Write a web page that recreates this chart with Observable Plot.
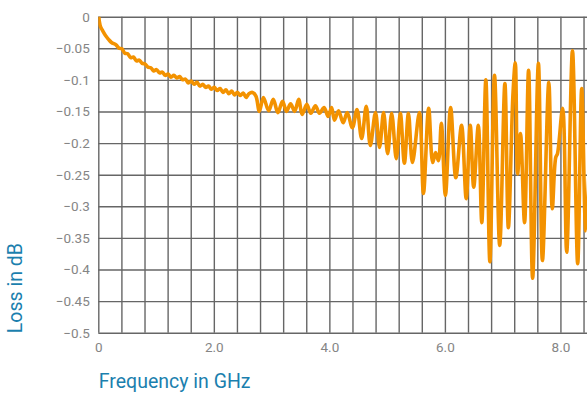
<!DOCTYPE html>
<html><head><meta charset="utf-8">
<script src="https://cdn.jsdelivr.net/npm/d3@7"></script>
<script src="https://cdn.jsdelivr.net/npm/@observablehq/plot@0.6"></script>
<style>body{margin:0;background:#fff;overflow:hidden}</style>
</head><body><div id="chart"></div>
<script>
const freqGHz = [
  0, 0.012, 0.029, 0.064, 0.116, 0.168, 0.220,
  0.30, 0.35, 0.40, 0.45, 0.50, 0.55, 0.60, 0.65, 0.70, 0.75, 0.80, 0.85, 0.90, 0.95,
  1.00, 1.05, 1.10, 1.15, 1.20, 1.25, 1.30, 1.35, 1.40, 1.45, 1.50, 1.55, 1.60, 1.65, 1.70, 1.75,
  1.80, 1.85, 1.90, 1.95, 2.00, 2.05, 2.10, 2.15, 2.20, 2.25, 2.30, 2.35, 2.40, 2.45, 2.50, 2.55, 2.60,
  2.66, 2.72, 2.78, 2.85, 2.94, 3.02, 3.10, 3.18, 3.25, 3.32, 3.39, 3.46, 3.52, 3.60, 3.67,
  3.75, 3.82, 3.90, 3.97, 4.03, 4.08, 4.15, 4.23, 4.30, 4.39, 4.47, 4.55, 4.63, 4.70, 4.79,
  4.86, 4.93, 5.00, 5.07, 5.15, 5.22, 5.29, 5.36, 5.43, 5.55, 5.62, 5.71, 5.78, 5.83, 5.88,
  5.93, 6.00, 6.09, 6.18, 6.28, 6.36, 6.43, 6.49, 6.57, 6.63, 6.70, 6.77, 6.85, 6.94, 7.03,
  7.09, 7.17, 7.21, 7.25, 7.30, 7.37, 7.44, 7.51, 7.61, 7.68, 7.79, 7.85, 7.91, 7.94, 8.03,
  8.10, 8.20, 8.29, 8.36, 8.43, 8.50
];
const lossDb = [
  0, -0.008, -0.015, -0.021, -0.029, -0.035, -0.040,
  -0.044, -0.049, -0.050, -0.057, -0.058, -0.064, -0.063, -0.069, -0.068, -0.073, -0.074, -0.079, -0.080, -0.085,
  -0.083, -0.088, -0.087, -0.092, -0.090, -0.095, -0.092, -0.096, -0.094, -0.099, -0.098, -0.104, -0.101, -0.106, -0.103, -0.109,
  -0.106, -0.111, -0.109, -0.114, -0.111, -0.116, -0.113, -0.119, -0.115, -0.121, -0.117, -0.123, -0.119, -0.124, -0.120, -0.127, -0.121,
  -0.119, -0.125, -0.149, -0.127, -0.148, -0.130, -0.151, -0.133, -0.149, -0.137, -0.149, -0.130, -0.154, -0.138, -0.152,
  -0.140, -0.152, -0.143, -0.157, -0.143, -0.163, -0.148, -0.167, -0.151, -0.175, -0.146, -0.192, -0.141, -0.203, -0.151,
  -0.206, -0.151, -0.216, -0.152, -0.224, -0.152, -0.231, -0.152, -0.230, -0.151, -0.279, -0.144, -0.230, -0.214, -0.227,
  -0.168, -0.282, -0.143, -0.254, -0.171, -0.287, -0.171, -0.269, -0.171, -0.325, -0.099, -0.387, -0.092, -0.361, -0.105,
  -0.333, -0.121, -0.072, -0.248, -0.184, -0.325, -0.084, -0.413, -0.073, -0.385, -0.103, -0.303, -0.222, -0.216, -0.144,
  -0.372, -0.053, -0.390, -0.113, -0.338, -0.211
];
const xTickValues = [0, 2, 4, 6, 8];
const xTickLabels = ["0", "2.0", "4.0", "6.0", "8.0"];
const xGridValues = [0, 0.4, 0.8, 1.2, 1.6, 2.0, 2.4, 2.8, 3.2, 3.6, 4.0, 4.4, 4.8, 5.2, 5.6, 6.0, 6.4, 6.8, 7.2, 7.6, 8.0, 8.4];
const yTickValues = [0, -0.05, -0.1, -0.15, -0.2, -0.25, -0.3, -0.35, -0.4, -0.45, -0.5];
const yTickLabels = ["0", "−0.05", "−0.1", "−0.15", "−0.2", "−0.25", "−0.3", "−0.35", "−0.4", "−0.45", "−0.5"];
const xTitle = "Frequency in GHz";
const yTitle = "Loss in dB";

const data = freqGHz.map((f, i) => ({f, v: lossDb[i]}));
const titleColor = "#1b7fae";
const gridColor = "#666666";

const chart = Plot.plot({
  width: 587,
  height: 394,
  marginLeft: 98.3,
  marginRight: 0,
  marginTop: 16.7,
  marginBottom: 61.3,
  style: {fontFamily: "Roboto, sans-serif", fontSize: "13.5px", background: "#fff"},
  x: {domain: [0, 8.46]},
  y: {domain: [-0.5, 0]},
  marks: [
    Plot.ruleX(xGridValues, {stroke: gridColor, strokeWidth: 1.4}),
    Plot.ruleY(yTickValues, {stroke: gridColor, strokeWidth: 1.4}),
    Plot.line(data, {x: "f", y: "v", stroke: "#f39200", strokeWidth: 3.6, curve: "catmull-rom", clip: true}),
    Plot.axisX(xTickValues, {tickSize: 0, tickPadding: 9, fill: "#858585", label: null,
      tickFormat: d => xTickLabels[xTickValues.indexOf(d)]}),
    Plot.axisY(yTickValues, {tickSize: 0, tickPadding: 9, fill: "#858585", label: null,
      tickFormat: d => yTickLabels[yTickValues.indexOf(d)]}),
    Plot.text([xTitle], {frameAnchor: "bottom-left", dy: 49, textAnchor: "start", lineAnchor: "middle",
      fill: titleColor, fontSize: 19.5}),
    Plot.text([yTitle], {frameAnchor: "bottom-left", dx: -83, rotate: -90, textAnchor: "start", lineAnchor: "middle",
      fill: titleColor, fontSize: 19.5})
  ]
});
document.getElementById("chart").appendChild(chart);
</script>
</body></html>
